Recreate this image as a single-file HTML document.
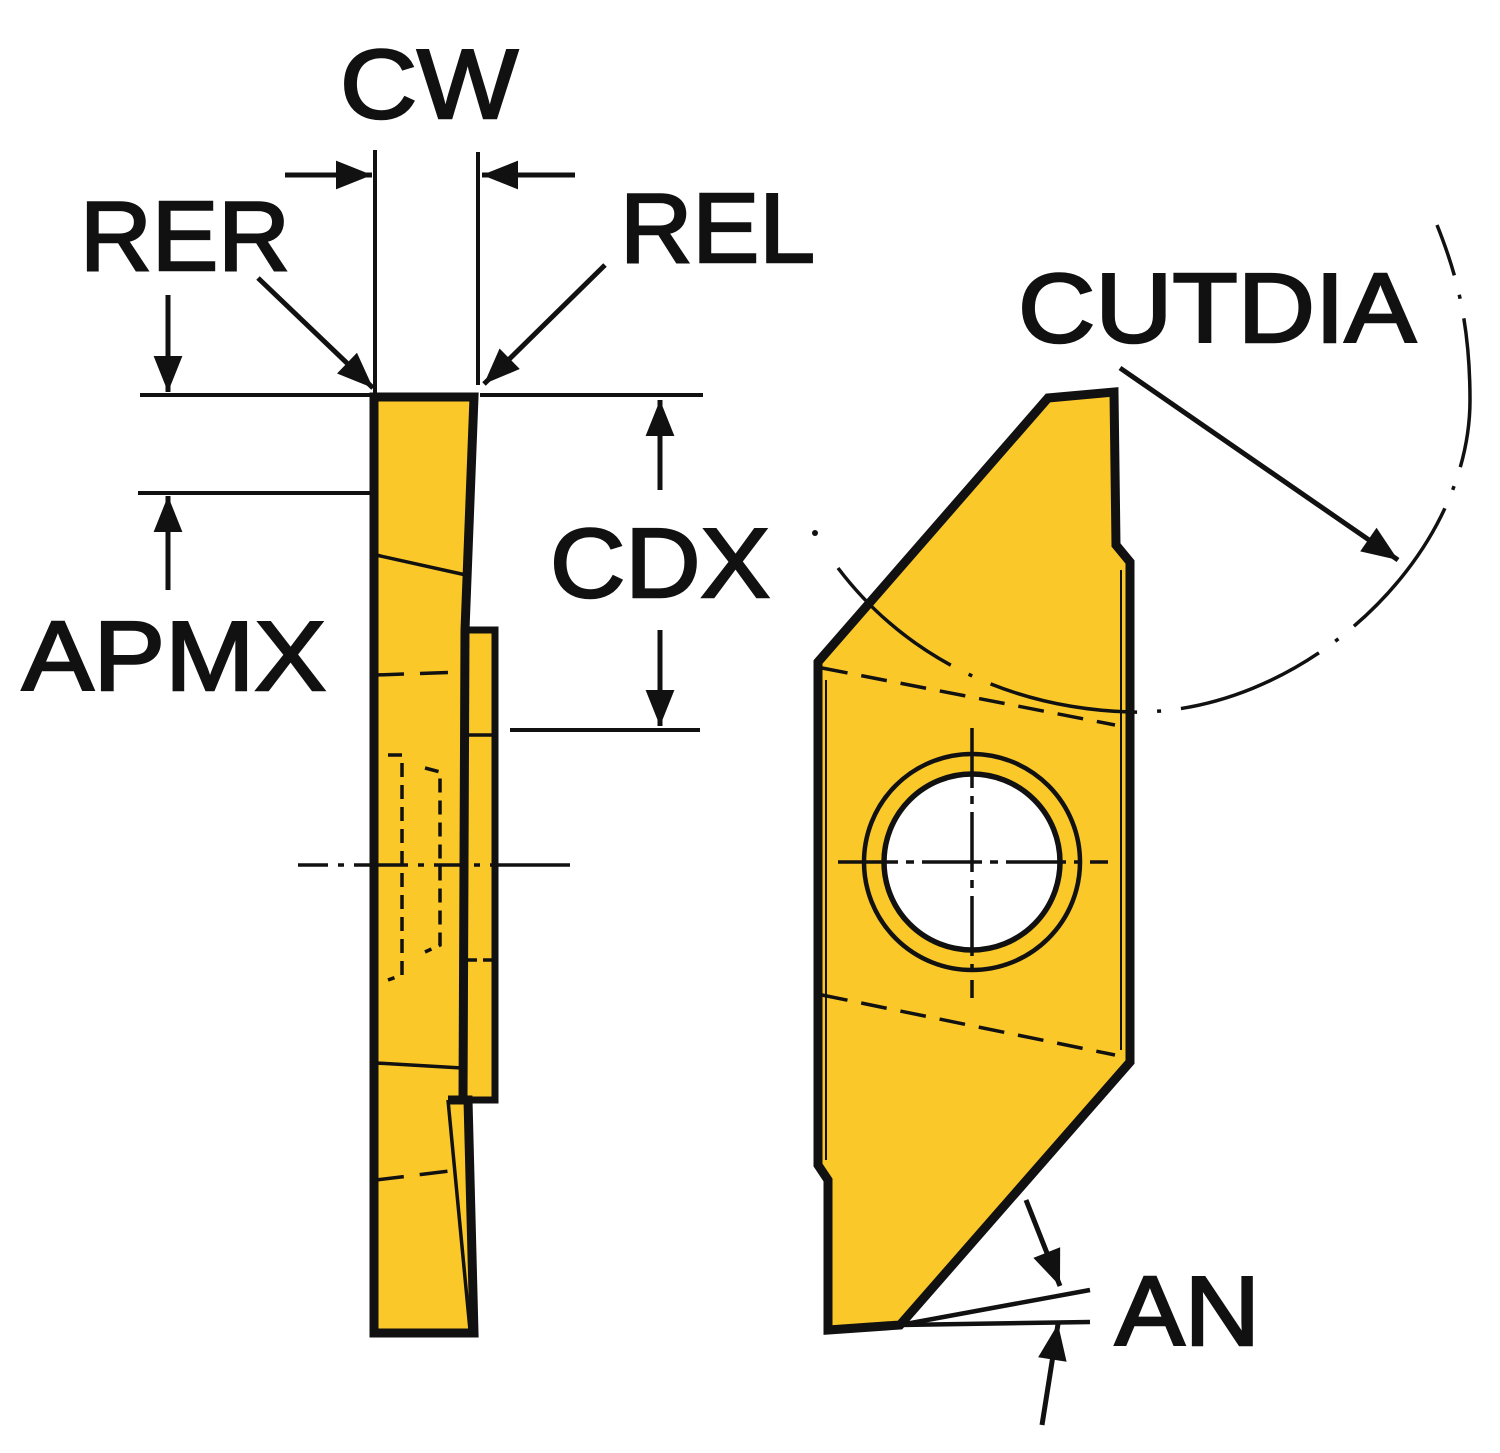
<!DOCTYPE html>
<html><head><meta charset="utf-8"><style>html,body{margin:0;padding:0;background:#fff}svg{display:block}</style></head>
<body>
<svg width="1500" height="1453" viewBox="0 0 1500 1453" xmlns="http://www.w3.org/2000/svg">
<defs>
<marker id="a" viewBox="0 0 10 10" refX="10" refY="5" markerWidth="9" markerHeight="9" markerUnits="userSpaceOnUse" orient="auto" overflow="visible">
<path d="M-40,-11 L0,5 L-40,21 Z" fill="#111" transform="translate(10,0)"/>
</marker>
</defs>
<g fill="#111" stroke="#111" stroke-width="2.5" font-family="Liberation Sans, Arial, sans-serif" font-size="98">
<text x="340" y="118" textLength="178" lengthAdjust="spacingAndGlyphs">CW</text>
<text x="80" y="270" textLength="210" lengthAdjust="spacingAndGlyphs">RER</text>
<text x="620" y="262" textLength="195" lengthAdjust="spacingAndGlyphs">REL</text>
<text x="1018" y="342" textLength="398" lengthAdjust="spacingAndGlyphs">CUTDIA</text>
<text x="550" y="597" textLength="220" lengthAdjust="spacingAndGlyphs">CDX</text>
<text x="22" y="690" textLength="304" lengthAdjust="spacingAndGlyphs">APMX</text>
<text x="1115" y="1345" textLength="145" lengthAdjust="spacingAndGlyphs">AN</text>
</g>
<g stroke="#111" stroke-width="4" fill="none">
<line x1="140" y1="395" x2="372" y2="395"/>
<line x1="480" y1="395" x2="703" y2="395"/>
<line x1="138" y1="493" x2="370" y2="493"/>
<line x1="375" y1="150" x2="375" y2="393"/>
<line x1="478" y1="152" x2="478" y2="385"/>
<line x1="510" y1="730" x2="700" y2="730"/>
</g>
<g stroke="#111" stroke-width="5" fill="none" marker-end="url(#a)">
<line x1="168" y1="295" x2="168" y2="392"/>
<line x1="168" y1="590" x2="168" y2="496"/>
<line x1="285" y1="175" x2="372" y2="175"/>
<line x1="575" y1="175" x2="482" y2="175"/>
<line x1="258" y1="278" x2="373" y2="388"/>
<line x1="605" y1="265" x2="484" y2="384"/>
<line x1="660" y1="490" x2="660" y2="400"/>
<line x1="660" y1="630" x2="660" y2="726"/>
<line x1="1120" y1="368" x2="1398" y2="560"/>
<line x1="1026" y1="1200" x2="1060" y2="1286"/>
<line x1="1042" y1="1425" x2="1058" y2="1324"/>
</g>
<g stroke="#111" stroke-linejoin="miter">
<rect x="463" y="630" width="32" height="470" fill="#FBC82A" stroke-width="7"/>
<polygon points="374,397 474,397 465,630 463,1100 448,1100 468,1100 474,1333 374,1333" fill="#FBC82A" stroke-width="9"/>
</g>
<g stroke="#111" stroke-width="3.5" fill="none">
<line x1="376" y1="555" x2="466" y2="575"/>
<line x1="376" y1="1063" x2="462" y2="1068"/>
<line x1="448" y1="1100" x2="470" y2="1330"/>
<line x1="463" y1="735" x2="495" y2="735"/>
<line x1="463" y1="630" x2="463" y2="1100"/>
<path d="M376,675 L462,672" stroke-dasharray="28,16"/>
<path d="M376,1180 L458,1170" stroke-dasharray="28,16"/>
<path d="M388,755 L402,755 L402,975 L388,980" stroke-dasharray="14,8"/>
<path d="M425,768 L440,772 L440,945 L425,952" stroke-dasharray="14,8"/>
<path d="M465,960 L495,960" stroke-dasharray="12,6"/>
<path d="M298,865 L370,865 M378,865 L500,865" stroke-dasharray="30,10,6,10"/>
<line x1="500" y1="865" x2="570" y2="865"/>
</g>
<polygon points="818,662 1048,398 1114,392 1116,545 1130,562 1130,1062 900,1325 828,1330 828,1180 818,1165" fill="#FBC82A" stroke="#111" stroke-width="9" stroke-linejoin="miter"/>
<g stroke="#111" fill="none">
<line x1="1121" y1="570" x2="1121" y2="1050" stroke-width="2"/>
<line x1="826" y1="680" x2="826" y2="1160" stroke-width="2"/>
<path d="M822,668 L1115,725" stroke-width="3.5" stroke-dasharray="26,14"/>
<path d="M822,995 L1115,1055" stroke-width="3.5" stroke-dasharray="26,14"/>
<circle cx="972" cy="862" r="108" stroke-width="4.5"/>
<circle cx="972" cy="862" r="88" fill="#fff" stroke-width="5.5"/>
<line x1="838" y1="862" x2="1108" y2="862" stroke-width="3.5" stroke-dasharray="60,8,8,8"/>
<line x1="972" y1="728" x2="972" y2="998" stroke-width="3.5" stroke-dasharray="60,8,8,8"/>
<path d="M838,568 C 900,650 1000,708 1130,712 C 1300,716 1470,560 1470,400 C 1470,320 1455,270 1437,225" stroke-width="3.5" stroke-dasharray="150,20,4,20"/>
<line x1="900" y1="1325" x2="1090" y2="1290" stroke-width="4.5"/>
<line x1="900" y1="1325" x2="1090" y2="1322" stroke-width="4.5"/>
</g>
<circle cx="815" cy="533" r="3" fill="#111"/>
</svg>
</body></html>
